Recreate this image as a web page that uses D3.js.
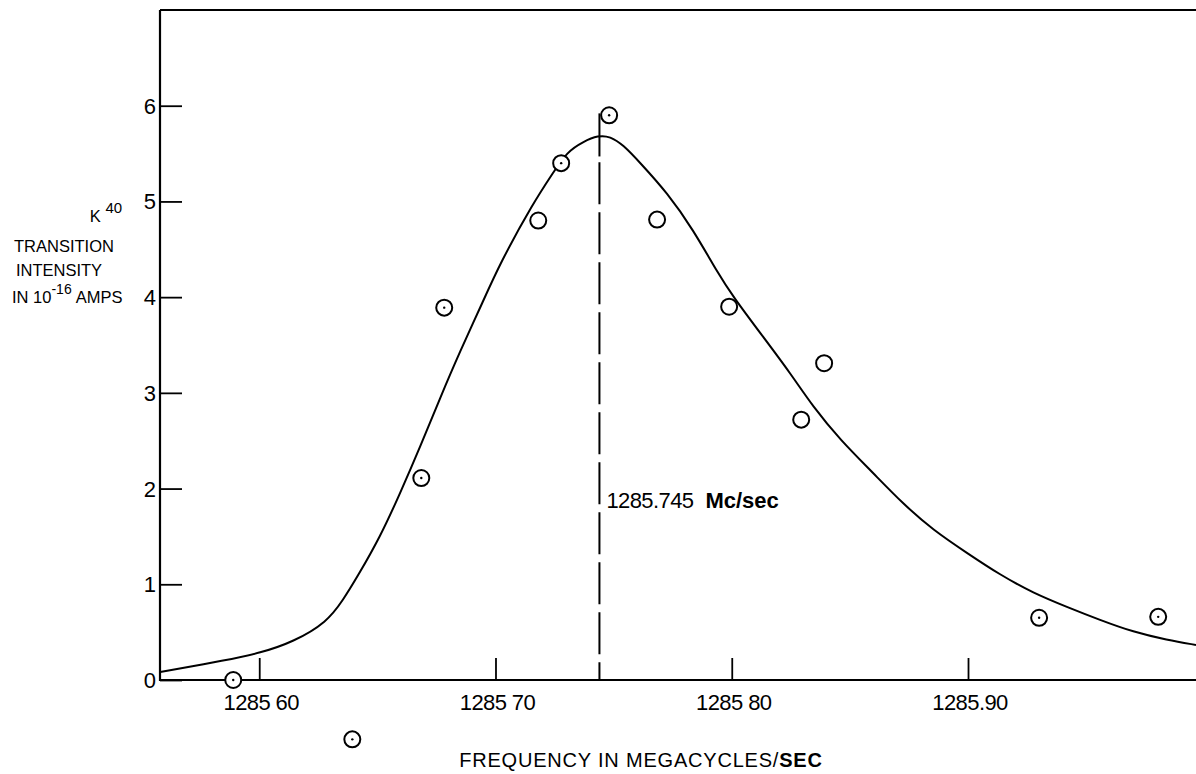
<!DOCTYPE html>
<html><head><meta charset="utf-8">
<script src="https://cdn.jsdelivr.net/npm/d3@7"></script>
<style>
html,body{margin:0;padding:0;background:#fff;}
text{font-family:"Liberation Sans",Arial,sans-serif;fill:#000;}
</style></head>
<body><svg id="chart" width="1196" height="774"></svg>
<script>
// measured points: frequency (Mc/sec), intensity (1e-16 A), dotted marker?
const pointFreq = [1285.589,1285.6394,1285.6686,1285.6783,1285.7181,1285.7278,1285.7481,1285.7684,1285.7989,1285.8294,1285.8391,1285.9301,1285.9805];
const pointVal  = [0.00,-0.62,2.11,3.89,4.80,5.40,5.90,4.81,3.90,2.72,3.31,0.65,0.66];
const pointDot  = [true,true,true,true,false,true,true,false,false,false,false,true,true];
// fitted curve
const curveFreq = [1285.5581,1285.5865,1285.6004,1285.6144,1285.6288,1285.6355,1285.6415,1285.6512,1285.6597,1285.6681,1285.6766,1285.6851,1285.6935,1285.7020,1285.7160,1285.7244,1285.7303,1285.7371,1285.7435,1285.7485,1285.7540,1285.7612,1285.7727,1285.7837,1285.7938,1285.8006,1285.8133,1285.8247,1285.8344,1285.8459,1285.8598,1285.8725,1285.8852,1285.8996,1285.9136,1285.9276,1285.9419,1285.9559,1285.9699,1285.9843,1285.9965];
const curveVal  = [0.084,0.209,0.282,0.397,0.606,0.836,1.077,1.495,1.955,2.436,2.95,3.44,3.888,4.359,4.986,5.300,5.519,5.624,5.690,5.680,5.592,5.404,5.090,4.704,4.265,4.003,3.585,3.209,2.854,2.509,2.164,1.84,1.568,1.327,1.098,0.909,0.763,0.627,0.502,0.418,0.366];
const xTicks = [1285.60,1285.70,1285.80,1285.90];
const xTickLabels = ["1285 60","1285 70","1285 80","1285.90"];
const yTicks = [0,1,2,3,4,5,6];
const centerFreq = 1285.744;
const centerLabel = "1285.745";
const centerUnit = "Mc/sec";

const svg = d3.select("#chart");
const x = d3.scaleLinear().domain([1285.558,1285.9965]).range([160,1196]);
const y = d3.scaleLinear().domain([0,7]).range([680,10]);

// frame: top line and left axis
svg.append("line").attr("x1",160).attr("x2",1196).attr("y1",y(7)).attr("y2",y(7)).attr("stroke","#000").attr("stroke-width",2.2);

const yAxis = d3.axisRight(y).tickValues(yTicks).tickSize(22).tickFormat("");
const gy = svg.append("g").attr("transform","translate(160,0)").call(yAxis);
gy.select(".domain").remove();
gy.selectAll(".tick line").attr("stroke","#000").attr("stroke-width",1.8);
svg.append("line").attr("x1",160).attr("x2",160).attr("y1",y(7)).attr("y2",y(0)+1).attr("stroke","#000").attr("stroke-width",2.2);
svg.selectAll(".ylab").data(yTicks).enter().append("text")
  .attr("x",156).attr("y",d=>y(d)+8).attr("text-anchor","end")
  .style("font-size","22px").text(d=>d);

const xAxis = d3.axisTop(x).tickValues(xTicks).tickSize(22).tickFormat("");
const gx = svg.append("g").attr("transform","translate(0,"+y(0)+")").call(xAxis);
gx.select(".domain").remove();
gx.selectAll(".tick line").attr("stroke","#000").attr("stroke-width",1.8);
svg.append("line").attr("x1",160).attr("x2",1196).attr("y1",y(0)).attr("y2",y(0)).attr("stroke","#000").attr("stroke-width",2.2);
svg.selectAll(".xlab").data(xTicks).enter().append("text")
  .attr("x",(d)=>x(d)+2).attr("y",y(0)+30).attr("text-anchor","middle")
  .style("font-size","22px").style("letter-spacing","-0.6px").text((d,i)=>xTickLabels[i]);

// center dashed line
svg.append("line").attr("x1",x(centerFreq)).attr("x2",x(centerFreq)).attr("y1",y(5.92)).attr("y2",y(5.47)).attr("stroke","#000").attr("stroke-width",2);
svg.append("line").attr("x1",x(centerFreq)).attr("x2",x(centerFreq)).attr("y1",y(5.41)).attr("y2",y(0)).attr("stroke","#000").attr("stroke-width",2).attr("stroke-dasharray","42,8");

// curve
const line = d3.line().x((d,i)=>x(curveFreq[i])).y((d,i)=>y(curveVal[i])).curve(d3.curveBasis);
svg.append("path").attr("d",line(curveFreq)).attr("fill","none").attr("stroke","#000").attr("stroke-width",2);

// points
const pts = pointFreq.map((f,i)=>({f, v:pointVal[i], dot:pointDot[i]}));
svg.selectAll(".pt").data(pts).enter().append("circle")
  .attr("cx",d=>x(d.f)).attr("cy",d=>y(d.v)).attr("r",8)
  .attr("fill","#fff").attr("stroke","#000").attr("stroke-width",2);
svg.selectAll(".ptd").data(pts.filter(d=>d.dot)).enter().append("circle")
  .attr("cx",d=>x(d.f)).attr("cy",d=>y(d.v)).attr("r",1.2).attr("fill","#000");

// center label
const cl = svg.append("text").attr("x",x(centerFreq)+7).attr("y",y(1.8)).style("font-size","22px");
cl.append("tspan").style("letter-spacing","-0.6px").text(centerLabel);
cl.append("tspan").attr("dx",12).style("font-weight","bold").text(centerUnit);

// y axis label
const yl = svg.append("g").style("font-size","16.5px");
const k = yl.append("text").attr("x",106).attr("y",222).attr("text-anchor","middle");
k.append("tspan").text("K ");
k.append("tspan").attr("dy",-9).style("font-size","15px").text("40");
yl.append("text").attr("x",64).attr("y",252).attr("text-anchor","middle").text("TRANSITION");
yl.append("text").attr("x",59).attr("y",276).attr("text-anchor","middle").text("INTENSITY");
const am = yl.append("text").attr("x",12).attr("y",303);
am.append("tspan").text("IN 10");
am.append("tspan").attr("dy",-9).style("font-size","14px").text("-16");
am.append("tspan").attr("dy",9).attr("dx",4).text("AMPS");

// x axis title
const xt = svg.append("text").attr("x",641).attr("y",767).attr("text-anchor","middle").style("font-size","20px").style("letter-spacing","0.8px");
xt.append("tspan").text("FREQUENCY  IN  MEGACYCLES/");
xt.append("tspan").style("font-weight","bold").text("SEC");
</script></body></html>
